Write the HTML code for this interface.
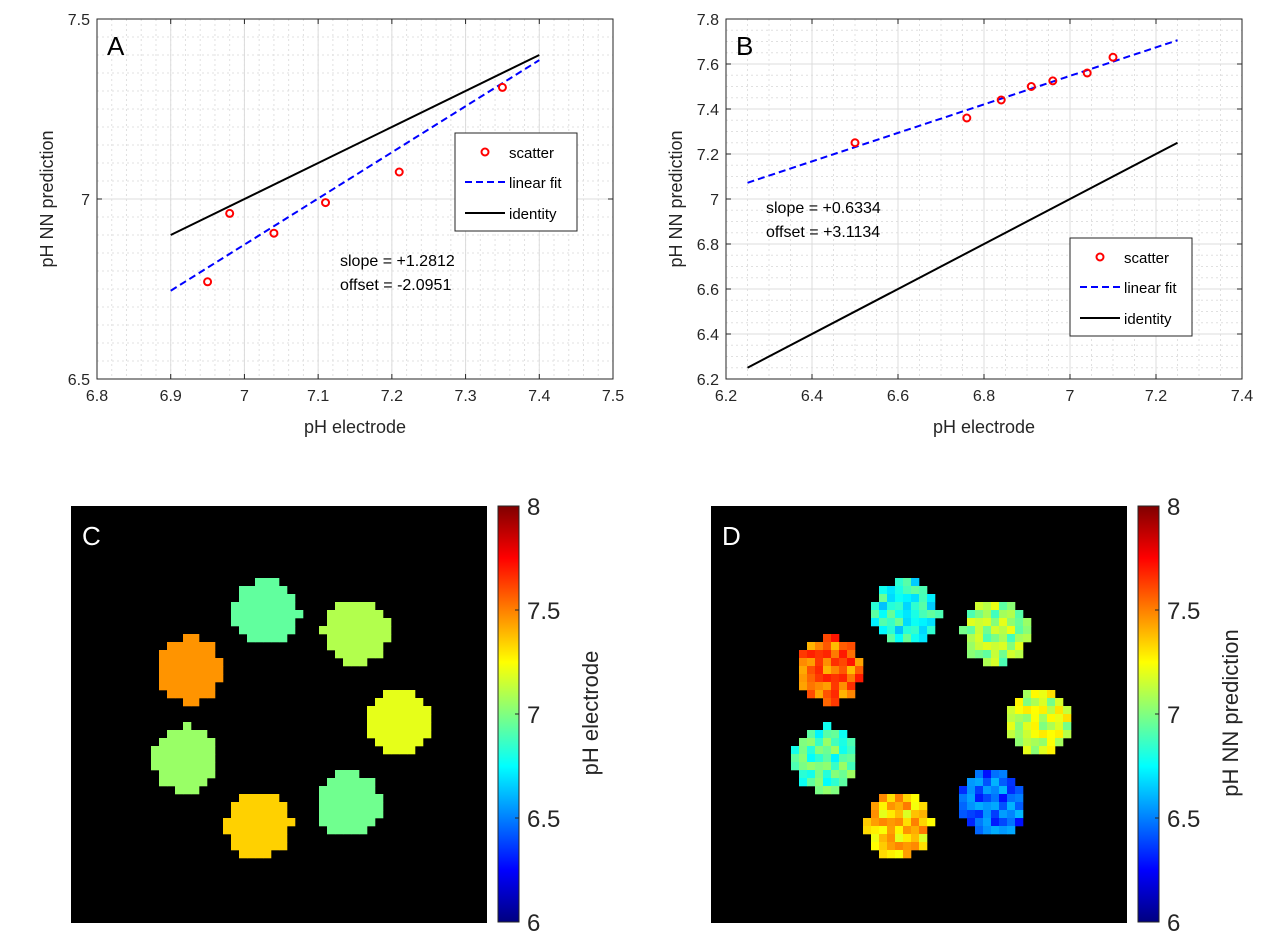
<!DOCTYPE html>
<html><head><meta charset="utf-8"><style>
body{margin:0;background:#fff;}
svg{display:block;font-family:"Liberation Sans",Arial,sans-serif;}
</style></head><body>
<svg id="s" width="1280" height="947"></svg>
<script>
// ---- Data ----
const aScatterX=[6.95,6.98,7.04,7.11,7.21,7.35];
const aScatterY=[6.77,6.96,6.905,6.99,7.075,7.31];
const aFit=[1.2812,-2.0951];
const aFitRange=[6.9,7.4];
const aXTicks=[6.8,6.9,7,7.1,7.2,7.3,7.4,7.5];
const aYTicks=[6.5,7,7.5];
const bScatterX=[6.5,6.76,6.84,6.91,6.96,7.04,7.10];
const bScatterY=[7.25,7.36,7.44,7.50,7.525,7.56,7.63];
const bFit=[0.6334,3.1134];
const bFitRange=[6.25,7.25];
const bXTicks=[6.2,6.4,6.6,6.8,7,7.2,7.4];
const bYTicks=[6.2,6.4,6.6,6.8,7,7.2,7.4,7.6,7.8];
const cbTicks=[6,6.5,7,7.5,8];
const cBlobX=[24.4,35.6,14.75,40.9,14.25,23.4,34.75];
const cBlobY=[13.25,15.75,20.5,27,31.6,39.9,37.25];
const cBlobV=[6.94,7.10,7.46,7.2,7.05,7.34,6.97];
const dBlobX=[24.4,35.6,14.75,40.9,14.25,23.4,35.1];
const dBlobY=[13.3,15.8,20.5,27,31.6,39.9,37.3];
const dBlobV=[6.8,7.05,7.55,7.15,6.9,7.35,6.45];
const dNoise=[0.12,-0.1,0.06,-0.15,0.0,0.16,-0.06,0.09,-0.12,0.03,0.14,-0.03,-0.17,0.1,-0.07,0.02,0.13,-0.11,0.05,-0.04,0.09,-0.13,0.15,-0.08,0.04,-0.02,0.11];

const S=document.getElementById('s');const NS='http://www.w3.org/2000/svg';
function el(t,a,p){const e=document.createElementNS(NS,t);for(const k in a)e.setAttribute(k,a[k]);(p||S).appendChild(e);return e;}
function txt(x,y,s,a,p){const e=el('text',Object.assign({x:x,y:y},a),p);e.textContent=s;return e;}
function jet(v){let t=(v-6)/2;t=Math.max(0,Math.min(1,t));
 const r=Math.max(0,Math.min(1,1.5-Math.abs(4*t-3))),g=Math.max(0,Math.min(1,1.5-Math.abs(4*t-2))),b=Math.max(0,Math.min(1,1.5-Math.abs(4*t-1)));
 return `rgb(${Math.round(r*255)},${Math.round(g*255)},${Math.round(b*255)})`;}

function plot(o){
 const g=el('g',{}),X=v=>o.x0+(v-o.xmin)/(o.xmax-o.xmin)*(o.x1-o.x0),Y=v=>o.y1-(v-o.ymin)/(o.ymax-o.ymin)*(o.y1-o.y0);
 
 el('rect',{x:o.x0,y:o.y0,width:o.x1-o.x0,height:o.y1-o.y0,fill:'#fff'},g);
 for(let v=o.xmin;v<=o.xmax+1e-9;v+=o.xminor){el('line',{x1:X(v),x2:X(v),y1:o.y0,y2:o.y1,stroke:'#e0e0e0','stroke-dasharray':'2,3'},g);}
 for(let v=o.ymin;v<=o.ymax+1e-9;v+=o.yminor){el('line',{y1:Y(v),y2:Y(v),x1:o.x0,x2:o.x1,stroke:'#e0e0e0','stroke-dasharray':'2,3'},g);}
 o.xt.forEach(v=>{el('line',{x1:X(v),x2:X(v),y1:o.y0,y2:o.y1,stroke:'#dcdcdc'},g);
  el('line',{x1:X(v),x2:X(v),y1:o.y1,y2:o.y1-5,stroke:'#262626'},g);
  el('line',{x1:X(v),x2:X(v),y1:o.y0,y2:o.y0+5,stroke:'#262626'},g);
  txt(X(v),o.y1+22,String(v),{'font-size':16,'text-anchor':'middle',fill:'#262626'},g);});
 o.yt.forEach(v=>{el('line',{y1:Y(v),y2:Y(v),x1:o.x0,x2:o.x1,stroke:'#dcdcdc'},g);
  el('line',{y1:Y(v),y2:Y(v),x1:o.x0,x2:o.x0+5,stroke:'#262626'},g);
  el('line',{y1:Y(v),y2:Y(v),x1:o.x1,x2:o.x1-5,stroke:'#262626'},g);
  txt(o.x0-7,Y(v)+6,String(v),{'font-size':16,'text-anchor':'end',fill:'#262626'},g);});
 el('rect',{x:o.x0,y:o.y0,width:o.x1-o.x0,height:o.y1-o.y0,fill:'none',stroke:'#262626'},g);
 el('line',{x1:X(o.fr[0]),y1:Y(o.fr[0]),x2:X(o.fr[1]),y2:Y(o.fr[1]),stroke:'#000','stroke-width':2},g);
 el('line',{x1:X(o.fr[0]),y1:Y(o.fit[0]*o.fr[0]+o.fit[1]),x2:X(o.fr[1]),y2:Y(o.fit[0]*o.fr[1]+o.fit[1]),stroke:'#0000ff','stroke-width':2,'stroke-dasharray':'7,4'},g);
 o.sx.forEach((v,i)=>{const c=el('circle',{cx:X(v),cy:Y(o.sy[i]),r:3.5,fill:'none',stroke:'#ff0000','stroke-width':2},g);});
 txt(o.x0+10,o.y0+36,o.letter,{'font-size':26,fill:'#000'},g);
 txt((o.x0+o.x1)/2,o.y1+54,'pH electrode',{'font-size':18,'text-anchor':'middle',fill:'#262626'},g);
 txt(0,0,'pH NN prediction',{'font-size':18,'text-anchor':'middle',fill:'#262626',transform:`translate(${o.x0-44},${(o.y0+o.y1)/2}) rotate(-90)`},g);
 txt(o.ann[0],o.ann[1],'slope = '+o.ann[2],{'font-size':16,fill:'#000'},g);
 txt(o.ann[0],o.ann[1]+24,'offset = '+o.ann[3],{'font-size':16,fill:'#000'},g);
 const L=el('g',{},g);
 const lx=o.leg[0],ly=o.leg[1];
 el('rect',{x:lx,y:ly,width:122,height:98,fill:'#fff',stroke:'#262626'},L);
 el('circle',{cx:lx+30,cy:ly+19,r:3.5,fill:'none',stroke:'#f00','stroke-width':2},L);
 el('line',{x1:lx+10,x2:lx+50,y1:ly+49,y2:ly+49,stroke:'#00f','stroke-width':2,'stroke-dasharray':'7,4'},L);
 el('line',{x1:lx+10,x2:lx+50,y1:ly+80,y2:ly+80,stroke:'#000','stroke-width':2},L);
 txt(lx+54,ly+25,'scatter',{'font-size':15},L);txt(lx+54,ly+55,'linear fit',{'font-size':15},L);txt(lx+54,ly+86,'identity',{'font-size':15},L);
}
plot({name:'panel-a',x0:97,x1:613,y0:19,y1:379,xmin:6.8,xmax:7.5,ymin:6.5,ymax:7.5,xminor:0.02,yminor:0.05,xt:aXTicks,yt:aYTicks,sx:aScatterX,sy:aScatterY,fit:aFit,fr:aFitRange,letter:'A',ann:[340,266,'+1.2812','-2.0951'],leg:[455,133]});
plot({name:'panel-b',x0:726,x1:1242,y0:19,y1:379,xmin:6.2,xmax:7.4,ymin:6.2,ymax:7.8,xminor:0.05,yminor:0.05,xt:bXTicks,yt:bYTicks,sx:bScatterX,sy:bScatterY,fit:bFit,fr:bFitRange,letter:'B',ann:[766,213,'+0.6334','+3.1134'],leg:[1070,238]});

function image(o){
 const g=el('g',{});
 el('rect',{x:o.x0,y:506,width:416,height:417,fill:'#000'},g);
 const c=8;
 o.bx.forEach((cx,i)=>{for(let r=0;r<52;r++)for(let q=0;q<52;q++){const dx=q+0.5-cx,dy=r+0.5-o.by[i];
  if(dx*dx+dy*dy<=17){let v=o.bv[i];if(o.noise){v+=dNoise[(r*7+q*3+i*5)%dNoise.length];}
   const cell=el('rect',{x:o.x0+q*c,y:506+r*c,width:c+0.3,height:c+0.3,fill:jet(v)},g);}}});
 txt(o.x0+11,545,o.letter,{'font-size':26,fill:'#fff'},g);
 const cb=el('g',{},g);
 const gid='jg'+o.letter;const d=el('defs',{},cb);const lg=el('linearGradient',{id:gid,x1:0,y1:1,x2:0,y2:0},d);
 for(let i=0;i<=8;i++)el('stop',{offset:i/8,'stop-color':jet(6+i/4)},lg);
 const cx=o.x0+427;el('rect',{x:cx,y:506,width:21,height:416,fill:`url(#${gid})`,stroke:'#262626'},cb);
 cbTicks.forEach(v=>{const y=922-(v-6)/2*416;el('line',{x1:cx+21,x2:cx+17,y1:y,y2:y,stroke:'#262626'},cb);
  txt(cx+29,y+9,String(v),{'font-size':24,fill:'#262626'},cb);});
 txt(0,0,o.label,{'font-size':22,'text-anchor':'middle',fill:'#262626',transform:`translate(${cx+100},713) rotate(-90)`},cb);
}
image({name:'panel-c',x0:71,bx:cBlobX,by:cBlobY,bv:cBlobV,letter:'C',label:'pH electrode',noise:false});
image({name:'panel-d',x0:711,bx:dBlobX,by:dBlobY,bv:dBlobV,letter:'D',label:'pH NN prediction',noise:true});
</script>
</body></html>
